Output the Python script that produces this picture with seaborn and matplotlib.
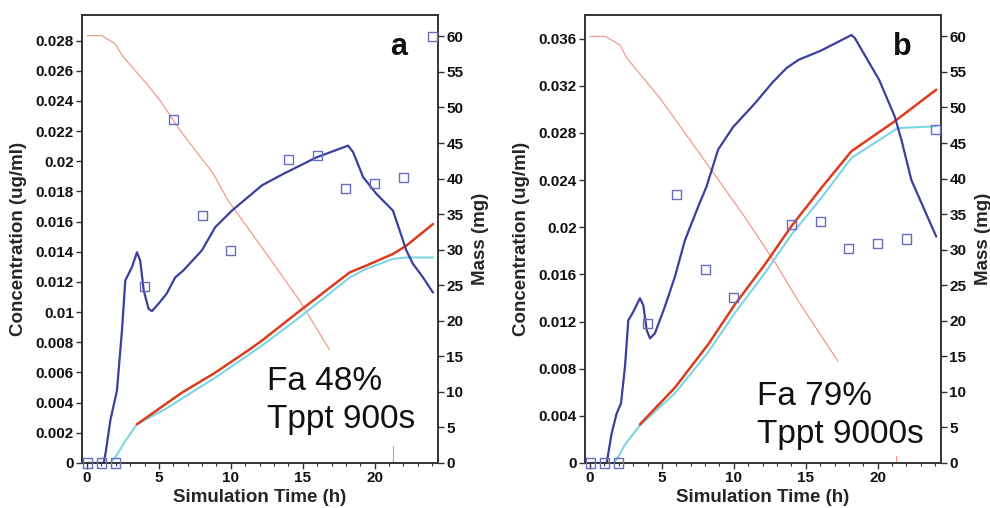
import numpy as np
import pandas as pd
import matplotlib
matplotlib.use("Agg")
import matplotlib.pyplot as plt
from matplotlib.ticker import MultipleLocator, FuncFormatter
import seaborn as sns

# ---------------- data ----------------
# observed concentration (ug/ml), both panels
t_obs = [0, 1, 2, 4, 6, 8, 10, 14, 16, 18, 20, 22, 24]
c_obs_a = [0, 0, 0, 0.0117, 0.0228, 0.0164, 0.0141, 0.0201, 0.0204, 0.0182, 0.0185, 0.0189, 0.0283]
c_obs_b = [0, 0, 0, 0.0118, 0.0228, 0.0164, 0.0140, 0.0202, 0.0205, 0.0182, 0.0186, 0.0190, 0.0283]

# simulated concentration (x 0.001 ug/ml)
t_sim_a = [0, 1.16, 1.32, 1.62, 2.08, 2.43, 2.66, 3.13, 3.47, 3.7, 3.94, 4.28, 4.51, 4.97, 5.53,
           6.13, 6.69, 7.98, 8.91, 10.07, 11.32, 12.15, 13.63, 15.95, 18.15, 18.5, 19.2, 20.12,
           21.27, 21.74, 22.2, 22.66, 23.36, 24.05]
c_sim_a = [0, 0, 0.84, 2.83, 4.8, 8.8, 12.1, 13.0, 13.97, 13.4, 11.44, 10.22, 10.07, 10.56, 11.22,
           12.3, 12.76, 14.09, 15.63, 16.73, 17.73, 18.4, 19.16, 20.26, 21.04, 20.6, 18.94, 17.84,
           16.73, 15.4, 14.09, 13.2, 12.3, 11.3]
t_sim_b = [0, 1.16, 1.5, 1.85, 2.15, 2.43, 2.66, 3.01, 3.47, 3.7, 3.94, 4.17, 4.51, 5.2, 5.9,
           6.6, 7.52, 8.1, 8.91, 9.95, 11.46, 12.7, 13.66, 14.5, 15.3, 16.09, 18.17, 18.4, 20.1,
           21.18, 21.65, 22.34, 24.07]
c_sim_b = [0, 0, 2.5, 4.2, 5.05, 8.16, 12.1, 12.83, 13.97, 13.4, 11.27, 10.57, 11.0, 13.25, 15.8,
           18.9, 21.75, 23.45, 26.6, 28.5, 30.5, 32.3, 33.5, 34.2, 34.6, 35.0, 36.3, 36.06, 32.5,
           29.4, 27.4, 24.0, 19.2]

# mass remaining (mg) - thin red line
t_rem_a = [0, 1.02, 1.94, 2.52, 4.15, 5.07, 6.46, 8.77, 9.81, 12.48, 14.79, 16.875]
m_rem_a = [60.1, 60.1, 58.97, 57.1, 53.3, 51.0, 46.8, 40.7, 36.9, 29.4, 22.8, 15.87]
t_rem_tail_a = [21.27, 21.27]
m_rem_tail_a = [2.4, 0]
t_rem_b = [0, 1.04, 2.08, 2.55, 4.86, 6.02, 8.33, 10.65, 12.96, 14.47, 17.24]
m_rem_b = [60, 60, 58.8, 56.95, 51.3, 48.05, 41.5, 34.9, 27.9, 22.8, 14.3]
t_rem_tail_b = [21.3, 21.3]
m_rem_tail_b = [1.0, 0]

# mass (mg) - thick red line
t_red_a = [3.47, 6.6, 8.91, 11.32, 12.15, 14.79, 18.26, 19.4, 21.27, 22.2, 24.05]
m_red_a = [5.45, 9.9, 12.7, 16.0, 17.2, 21.4, 26.8, 27.75, 29.4, 30.56, 33.6]
t_red_b = [3.47, 5.9, 8.22, 10.07, 12.15, 14.0, 16.09, 18.17, 21.18, 24.07]
m_red_b = [5.44, 10.6, 16.7, 22.3, 27.9, 33.3, 38.7, 43.84, 48.05, 52.5]

# mass (mg) - cyan line
t_cyan_a = [1.65, 2.0, 2.66, 3.47, 5.53, 8.91, 12.15, 14.79, 18.26, 19.4, 21.27, 22.2, 24.05]
m_cyan_a = [0, 0.9, 3.1, 5.45, 7.7, 12.0, 16.5, 20.5, 26.1, 27.3, 28.7, 28.9, 28.9]
t_cyan_b = [1.65, 2.0, 2.43, 3.47, 5.9, 8.22, 10.07, 12.15, 14.0, 16.09, 18.17, 21.4, 24.07]
m_cyan_b = [0, 1.0, 2.6, 5.3, 9.8, 15.6, 21.1, 26.7, 32.1, 37.3, 42.9, 47.1, 47.35]

panel_letters = ["a", "b"]
notes = ["Fa 48%\nTppt 900s", "Fa 79%\nTppt 9000s"]
conc_top = [0.028, 0.036]
conc_step = [0.002, 0.004]
conc_lim = [0.0297, 0.0380]

# ---------------- style ----------------
sns.set_theme(style="ticks")
plt.rcParams['font.family'] = ['Liberation Sans', 'DejaVu Sans']

BLUE = '#3b3f9e'
SQ = '#6a6cc0'
THIN_RED = '#f09080'
RED = '#dc3c1c'
CYAN = '#7dd4e4'
SPINE = '#333333'

W, H = 990, 508
fig = plt.figure(figsize=(W / 100, H / 100), dpi=100)

def rect(l, r, t, b):
    return [l / W, (H - b) / H, (r - l) / W, (b - t) / H]

axes_rects = [rect(82, 438, 15, 463), rect(585, 941, 15, 463)]

panels = [
    dict(ts=t_sim_a, cs=c_sim_a, co=c_obs_a, tr=t_rem_a, mr=m_rem_a, ttr=t_rem_tail_a, mtr=m_rem_tail_a,
         tred=t_red_a, mred=m_red_a, tc=t_cyan_a, mc=m_cyan_a, note_xy=(12.5, 0.0023)),
    dict(ts=t_sim_b, cs=c_sim_b, co=c_obs_b, tr=t_rem_b, mr=m_rem_b, ttr=t_rem_tail_b, mtr=m_rem_tail_b,
         tred=t_red_b, mred=m_red_b, tc=t_cyan_b, mc=m_cyan_b, note_xy=(11.58, 0.00167)),
]

for i, p in enumerate(panels):
    ax = fig.add_axes(axes_rects[i])
    ax2 = ax.twinx()

    df_sim = pd.DataFrame({"t": p["ts"], "c": np.array(p["cs"]) * 0.001})
    df_obs = pd.DataFrame({"t": t_obs, "c": p["co"]})
    df_rem = pd.DataFrame({"t": p["tr"], "m": p["mr"]})
    df_rem_tail = pd.DataFrame({"t": p["ttr"], "m": p["mtr"]})
    df_red = pd.DataFrame({"t": p["tred"], "m": p["mred"]})
    df_cyan = pd.DataFrame({"t": p["tc"], "m": p["mc"]})

    # mass lines on right axis
    sns.lineplot(data=df_rem, x="t", y="m", ax=ax2, color=THIN_RED, lw=0.8, estimator=None, sort=False)
    sns.lineplot(data=df_rem_tail, x="t", y="m", ax=ax2, color=THIN_RED, lw=0.8, estimator=None, sort=False)
    sns.lineplot(data=df_cyan, x="t", y="m", ax=ax2, color=CYAN, lw=1.5, estimator=None, sort=False)
    sns.lineplot(data=df_red, x="t", y="m", ax=ax2, color=RED, lw=1.8, estimator=None, sort=False)

    # concentration on left axis
    sns.lineplot(data=df_sim, x="t", y="c", ax=ax, color=BLUE, lw=1.6, estimator=None, sort=False)
    sns.scatterplot(data=df_obs, x="t", y="c", ax=ax, marker='s', s=42,
                    facecolors='none', edgecolor=SQ, linewidth=1.0, clip_on=False, zorder=5)

    ax.set_zorder(ax2.get_zorder() + 1)
    ax.patch.set_visible(False)

    ax.set_xlim(-0.35, 24.4)
    ax.set_ylim(0, conc_lim[i])
    ax2.set_ylim(0, 63)

    ax.xaxis.set_major_locator(MultipleLocator(5))
    ax.xaxis.set_minor_locator(MultipleLocator(1))
    ax.set_yticks(np.round(np.arange(0, conc_top[i] + 1e-9, conc_step[i]), 4))
    ax.yaxis.set_major_formatter(FuncFormatter(lambda v, pos: f"{round(v, 4):g}"))
    ax2.set_yticks(np.arange(0, 61, 5))

    for a in (ax, ax2):
        for s in a.spines.values():
            s.set_visible(True)
            s.set_color(SPINE)
            s.set_linewidth(1.2)
        a.tick_params(axis='both', which='major', direction='out', length=4, width=1.0,
                      color=SPINE, labelsize=11, pad=2, labelcolor='#111111')
        a.tick_params(axis='both', which='minor', direction='out', length=2.5, width=0.8, color=SPINE)
        for lab in a.get_xticklabels() + a.get_yticklabels():
            lab.set_fontweight('bold')

    ax.set_xlabel("Simulation Time (h)", fontsize=13.5, fontweight='bold', labelpad=3)
    ax.set_ylabel("Concentration (ug/ml)", fontsize=13.5, fontweight='bold', labelpad=6)
    ax2.set_ylabel("Mass (mg)", fontsize=13.5, fontweight='bold', labelpad=6)

    ax.text(*p["note_xy"], notes[i], fontsize=24, ha='left', va='baseline', linespacing=1.32,
            color='#111111', zorder=6)
    ax.text(0.89, 0.911, panel_letters[i], transform=ax.transAxes, fontsize=22, fontweight='bold',
            ha='center', va='baseline', color='#111111')

fig.savefig("out.png", dpi=100)
